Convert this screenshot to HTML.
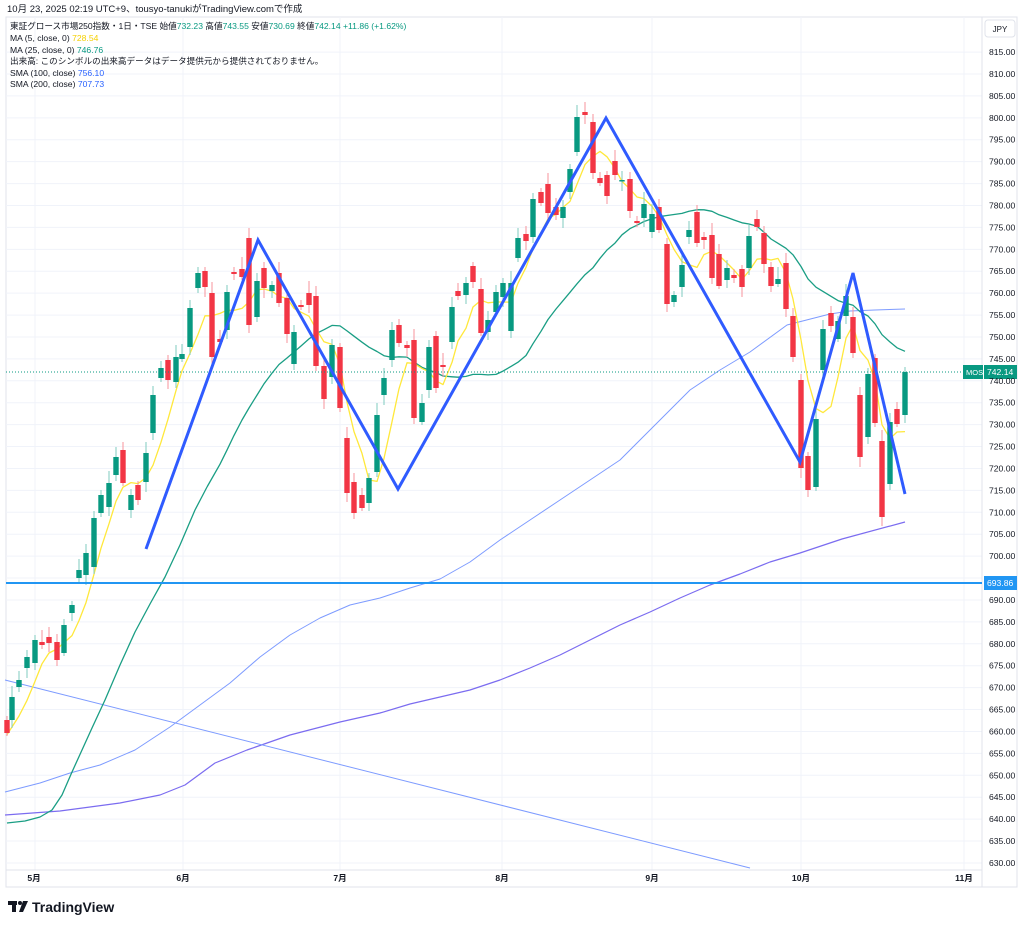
<!DOCTYPE html>
<html><head><meta charset="utf-8"><style>
html,body{margin:0;padding:0;background:#fff;width:1024px;height:926px;overflow:hidden}
svg{display:block;font-family:"Liberation Sans","Noto Sans CJK JP",sans-serif}
</style></head><body>
<svg id="s" width="1024" height="926" viewBox="0 0 1024 926" xmlns="http://www.w3.org/2000/svg">
<rect width="1024" height="926" fill="#fff"/>
<text x="7" y="12" font-size="9.5" fill="#131722">10月 23, 2025 02:19 UTC+9、tousyo-tanukiがTradingView.comで作成</text>
<rect x="6" y="17" width="1011" height="870" fill="none" stroke="#e0e3eb" stroke-width="1"/>
<g id="grid"></g>
<g id="lines"></g>
<g id="candles"></g>
<g id="over"></g>
<g font-size="8.6" fill="#131722">
<text x="10" y="29">東証グロース市場250指数・1日・TSE  始値<tspan fill="#089981">732.23</tspan> 高値<tspan fill="#089981">743.55</tspan> 安値<tspan fill="#089981">730.69</tspan> 終値<tspan fill="#089981">742.14 +11.86 (+1.62%)</tspan></text>
<text x="10" y="41">MA (5, close, 0) <tspan fill="#f5d000">728.54</tspan></text>
<text x="10" y="53">MA (25, close, 0) <tspan fill="#089981">746.76</tspan></text>
<text x="10" y="64">出来高: このシンボルの出来高データはデータ提供元から提供されておりません。</text>
<text x="10" y="76">SMA (100, close) <tspan fill="#2962ff">756.10</tspan></text>
<text x="10" y="87">SMA (200, close) <tspan fill="#2962ff">707.73</tspan></text>
</g>
<rect x="985" y="20" width="30" height="17" rx="3" fill="#fff" stroke="#e0e3eb"/>
<text x="1000" y="32" font-size="8" text-anchor="middle" fill="#131722">JPY</text>
<g id="axis" font-size="8.6" fill="#131722"></g>
<g font-size="8.6" fill="#131722" font-weight="bold">
<text x="34" y="881" text-anchor="middle">5月</text><text x="183" y="881" text-anchor="middle">6月</text>
<text x="340" y="881" text-anchor="middle">7月</text><text x="502" y="881" text-anchor="middle">8月</text>
<text x="652" y="881" text-anchor="middle">9月</text><text x="801" y="881" text-anchor="middle">10月</text>
<text x="964" y="881" text-anchor="middle">11月</text>
</g>
<g fill="#131722"><rect x="8" y="901" width="9" height="4"/><rect x="12" y="901" width="4" height="11"/><circle cx="20" cy="903" r="2"/><path d="M23 901h5l-5 11h-4z"/></g>
<text x="32" y="912" font-size="14" font-weight="bold" fill="#131722">TradingView</text>
</svg>
<script>
var NS="http://www.w3.org/2000/svg";
function el(p,t,a){var e=document.createElementNS(NS,t);for(var k in a)e.setAttribute(k,a[k]);p.appendChild(e);return e;}
function Y(p){return 74+(810-p)*4.383;}
var g=document.getElementById('grid'),ax=document.getElementById('axis');
for(var p=630;p<=815;p+=5){var y=Y(p);el(g,'line',{x1:6,x2:982,y1:y,y2:y,stroke:'#f0f3fa'});
 if(p!=695){var t=el(ax,'text',{x:989,y:y+3});t.textContent=p.toFixed(2);}}
[35,183,340,502,652,801,964].forEach(function(x){el(g,'line',{x1:x,x2:x,y1:17,y2:870,stroke:'#f0f3fa'});});
el(g,'line',{x1:982,x2:982,y1:17,y2:887,stroke:'#e0e3eb'});
el(g,'line',{x1:6,x2:982,y1:870,y2:870,stroke:'#e0e3eb'});
var C=[[7,720,733,0],[12,697,720,1],[19,680,687,1],[27,657,668,1],[35,640,663,1],[42,642,645,0],[49,637,643,0],[57,642,660,0],[64,625,653,1],[72,605,613,1],[79,570,578,1],[86,553,575,1],[94,518,567,1],[101,495,513,1],[109,483,507,1],[116,457,475,1],[123,450,483,0],[131,495,510,1],[138,485,500,0],[146,453,482,1],[153,395,433,1],[161,368,378,1],[168,360,380,0],[176,357,382,1],[182,354,359,1],[190,308,347,1],[198,273,288,1],[205,271,287,0],[212,293,357,0],[220,339,342,0],[227,292,330,1],[234,272,274,0],[242,269,277,0],[249,238,325,0],[257,281,317,1],[264,268,288,0],[272,285,291,1],[279,273,303,0],[287,298,334,0],[294,332,364,1],[301,305,307,0],[309,293,305,0],[316,296,366,0],[324,366,399,0],[332,345,377,1],[340,347,408,0],[347,438,493,0],[354,482,513,0],[362,495,508,0],[369,478,503,1],[377,415,472,1],[384,378,395,1],[392,330,360,1],[399,325,343,0],[407,345,348,0],[414,340,418,0],[422,403,422,1],[429,347,390,1],[436,336,388,0],[443,365,367,0],[452,307,342,1],[458,291,296,0],[466,283,295,1],[473,266,282,0],[481,289,333,0],[488,320,332,1],[496,292,312,1],[503,283,297,1],[511,283,331,1],[518,238,258,1],[526,234,241,0],[533,199,237,1],[541,192,203,0],[548,184,213,0],[556,207,215,0],[563,207,218,1],[570,169,192,1],[577,117,152,1],[585,112,115,0],[593,122,173,0],[600,178,183,0],[607,175,196,0],[615,161,175,0],[622,180,181,1],[630,179,211,0],[637,221,223,0],[644,204,218,1],[652,214,232,1],[659,207,230,0],[667,244,304,0],[674,295,302,1],[682,265,287,1],[689,230,237,1],[697,212,243,0],[704,237,240,0],[712,235,278,0],[719,254,286,0],[727,268,280,1],[734,275,278,0],[742,269,287,0],[749,236,268,1],[757,219,227,0],[764,233,264,0],[771,267,286,0],[778,279,284,1],[786,263,309,0],[793,316,357,0],[801,380,468,0],[808,456,490,0],[816,419,487,1],[823,329,370,1],[831,313,326,0],[838,321,339,1],[846,296,316,1],[853,317,353,0],[860,395,457,0],[868,374,437,1],[875,358,423,0],[882,441,517,0],[890,422,484,1],[897,409,424,0],[905,372,415,1]];
var cg=document.getElementById('candles'),closes=[];
C.forEach(function(c,i){var col=c[3]?'#089981':'#f23645';
 var wt=c[1]-(4+(i*7)%9),wb=c[2]+(3+(i*5)%8);
 el(cg,'line',{x1:c[0],x2:c[0],y1:wt,y2:wb,stroke:c[3]?'#7fcbbf':'#f7939b','stroke-width':1});
 el(cg,'rect',{x:c[0]-2.7,y:c[1],width:5.4,height:Math.max(1.5,c[2]-c[1]),fill:col});
 closes.push(c[3]?c[1]:c[2]);});
var lg=document.getElementById('lines');
function maArr(n,pad){var arr=[];for(var i=0;i<n-1;i++)arr.push(pad);arr=arr.concat(closes);var pts=[];
 for(var i=0;i<C.length;i++){var s=0;for(var j=0;j<n;j++)s+=arr[i+j];pts.push([C[i][0],s/n]);}return pts;}
function pl(pts,col,w){el(lg,'polyline',{points:pts,fill:'none',stroke:col,'stroke-width':w,'stroke-linejoin':'round'});}
pl('5,792 40,783 70,773 100,765 135,750 170,727 200,705 230,683 260,657 290,635 320,618 350,605 380,598 410,588 440,579 470,562 500,540 530,520 560,500 590,480 620,460 645,435 670,410 690,390 720,370 750,352 787,325 830,314 850,311 875,310 905,309','#7d9bff',1);
pl('5,815 60,811 120,803 160,795 185,785 215,763 247,750 290,735 340,722 380,713 410,704 440,697 470,690 500,680 530,668 560,655 590,640 620,625 650,612 680,598 710,585 740,574 770,562 800,553 842,539 905,522','#7b6cf0',1.2);
pl('5,680 750,868','#7d9bff',1);
var m25=maArr(25,845).filter(function(p){return p[0]>212;}).map(function(p){return p[0]+','+p[1].toFixed(1);}).join(' ');
pl('7,823 25,821 40,817 52,810 62,795 72,772 82,750 92,728 105,700 120,665 135,632 150,604 165,577 180,545 195,510 207,487 ',"#1a9e84",1.3);
el(lg,'polyline',{points:'207,487 '+m25,fill:'none',stroke:'#1a9e84','stroke-width':1.3,'stroke-linejoin':'round'});
pl(maArr(5,735).map(function(p){return p[0]+','+p[1].toFixed(1);}).join(' '),'#ffe83b',1.3);
var ov=document.getElementById('over');
el(ov,'line',{x1:6,x2:982,y1:372,y2:372,stroke:'#089981','stroke-dasharray':'1,2'});
el(ov,'line',{x1:6,x2:982,y1:583,y2:583,stroke:'#2196f3','stroke-width':2});
el(ov,'polyline',{points:'146,549 258,240 398,489 606,118 800,462 853,273 905,494',fill:'none',stroke:'#2f5bff','stroke-width':3,'stroke-linejoin':'miter'});
el(ov,'rect',{x:963,y:365,width:20,height:14,fill:'#089981'});
el(ov,'rect',{x:984,y:365,width:33,height:14,fill:'#089981'});
var t=el(ov,'text',{x:966,y:375,'font-size':7.5,fill:'#fff'});t.textContent='MOS';
t=el(ov,'text',{x:987,y:375,'font-size':8.6,fill:'#fff'});t.textContent='742.14';
el(ov,'rect',{x:984,y:576,width:33,height:14,fill:'#2196f3'});
t=el(ov,'text',{x:987,y:586,'font-size':8.6,fill:'#fff'});t.textContent='693.86';
</script>
</body></html>
